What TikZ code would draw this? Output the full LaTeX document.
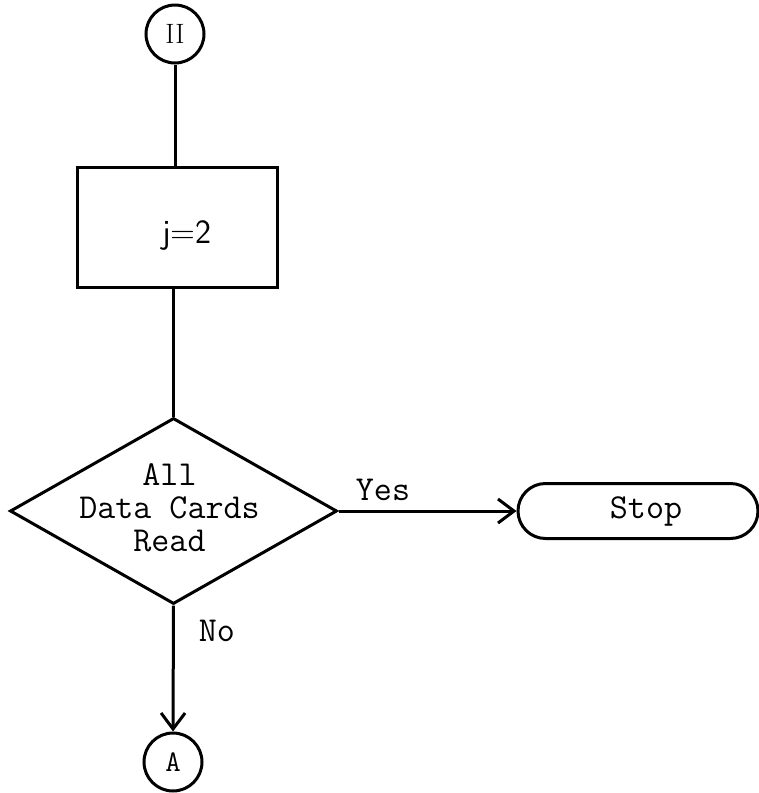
\documentclass[tikz,border=0pt]{standalone}
\usetikzlibrary{shapes.geometric,shapes.misc,arrows.meta}
\begin{document}
\begin{tikzpicture}[x=1pt,y=-1pt,
  line/.style={line width=3pt},
  tw/.style={font=\fontsize{35}{33}\selectfont\ttfamily},
  conn/.style={draw, circle, line width=3pt, minimum size=58pt, inner sep=0pt},
  arr/.style={line width=3pt,-{Straight Barb[length=16pt,width=24pt,line width=3pt]}}]
\useasboundingbox (0,0) rectangle (759,793);
\node[conn, font=\fontsize{28}{28}\selectfont] (ii) at (175,34) {II};
\node[draw, line width=3pt, minimum width=200pt, minimum height=120pt, inner sep=0pt,
  label={[font=\fontsize{34}{34}\selectfont\sffamily, xshift=10pt, yshift=-9pt]center:{j=2}}] (box) at (177,227) {};
\node[diamond, draw, line width=3pt, minimum width=327pt, minimum height=186pt, inner sep=0pt,
  label={[tw, align=center, xshift=-4pt, yshift=3pt]center:{All\\Data Cards\\Read}}] (dec) at (173.5,511) {};
\node[draw, rounded rectangle, minimum width=240pt, minimum height=55pt, line width=3pt, inner sep=0pt,
  label={[tw, xshift=8pt]center:Stop}] (stop) at (638,511) {};
\node[conn, font=\fontsize{30}{30}\selectfont\ttfamily] (a) at (173,762) {A};
\draw[line] (ii.south) -- (ii.south |- box.north);
\draw[line] (box.south -| dec.north) -- (dec.north);
\draw[arr] (dec.east) -- node[pos=0.25, above=9pt, inner sep=0pt, tw] {Yes} (stop.west);
\draw[arr] (dec.south) -- node[pos=0.2, right=24pt, inner sep=0pt, tw] {No} (a.north);
\end{tikzpicture}
\end{document}
